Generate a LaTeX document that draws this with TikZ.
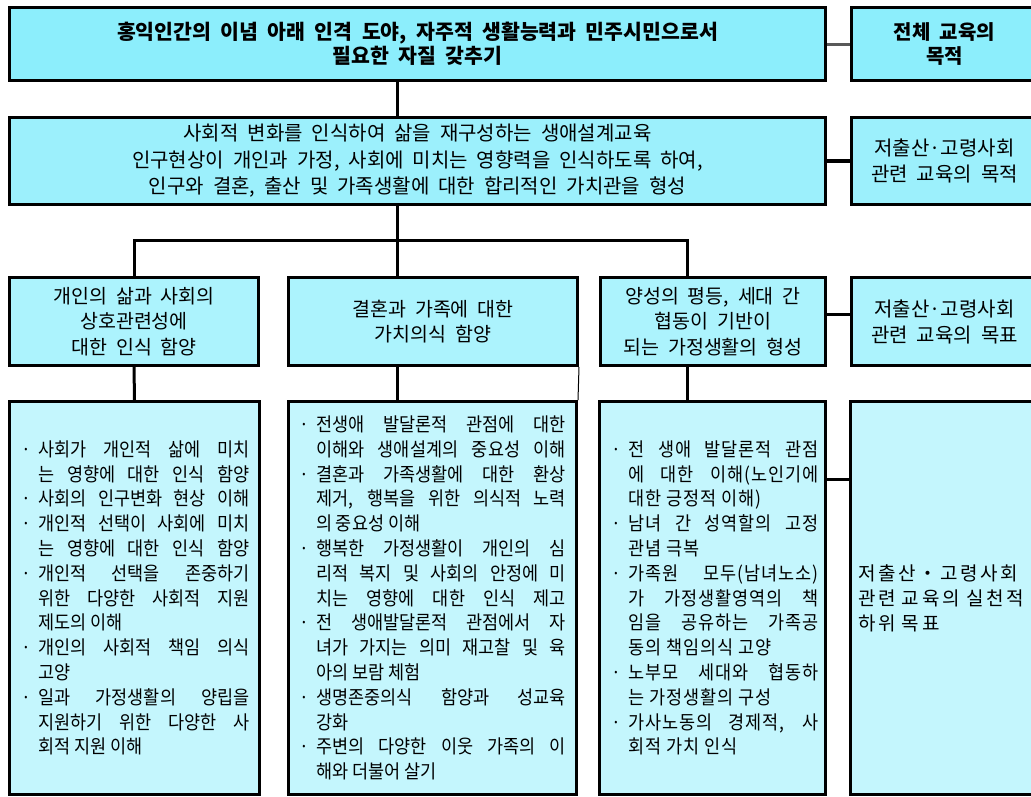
\documentclass[tikz,border=0pt]{standalone}
\usepackage{fontspec}
\setmainfont{Noto Sans CJK KR}[WordSpace=2]
\newfontfamily\klist[FakeStretch=0.92]{Noto Sans CJK KR}
\newfontfamily\kthree[FakeStretch=0.92,LetterSpace=5]{Noto Sans CJK KR}
\newfontfamily\kfour[LetterSpace=14]{Noto Sans CJK KR}
\definecolor{cA}{RGB}{140,238,252}
\definecolor{cB}{RGB}{156,240,252}
\definecolor{cC}{RGB}{172,243,253}
\definecolor{cD}{RGB}{196,246,253}
\newlength\tw \newlength\bi \newlength\lead
\newcommand\Bj[1]{\hspace*{\lead}\makebox[\bi][l]{\makebox[0pt]{·}}\makebox[\tw][s]{#1}}
\newcommand\Cj[1]{\hspace*{\lead}\hspace*{\bi}\makebox[\tw][s]{#1}}
\newcommand\Cl[1]{\hspace*{\lead}\hspace*{\bi}#1}
\tikzset{
  mybox/.style={draw=black, line width=3pt, rectangle, inner sep=0pt, anchor=north west, align=center},
  conn/.style={draw=black, line width=3pt},
  lst/.style={font=\klist\fontsize{19}{24.8}\selectfont, align=left},
}
\begin{document}
\begin{tikzpicture}[x=1pt,y=-1pt]
\useasboundingbox (0,0) rectangle (1031,796);
\clip (0,0) rectangle (1031,796);
% row 1
\node[mybox, fill=cA, minimum width=816pt, minimum height=73pt, font=\fontsize{20.5}{24}\selectfont\bfseries] (n1) at (8,6)
  {홍익인간의 이념 아래 인격 도야, 자주적 생활능력과 민주시민으로서\\필요한 자질 갖추기};
\node[mybox, fill=cA, minimum width=186pt, minimum height=73pt, font=\fontsize{20}{24}\selectfont\bfseries] (r1) at (850,6)
  {전체 교육의\\목적};
% row 2
\node[mybox, fill=cB, minimum width=816pt, minimum height=87pt, font=\fontsize{20}{26.5}\selectfont] (n2) at (8,116)
  {사회적 변화를 인식하여 삶을 재구성하는 생애설계교육\\인구현상이 개인과 가정, 사회에 미치는 영향력을 인식하도록 하여,\\인구와 결혼, 출산 및 가족생활에 대한 합리적인 가치관을 형성};
\node[mybox, fill=cB, minimum width=186pt, minimum height=87pt, font=\fontsize{20}{26}\selectfont] (r2) at (850,116)
  {저출산·고령사회\\관련 교육의 목적};
% row 3
\node[mybox, fill=cC, minimum width=249pt, minimum height=88pt, font=\fontsize{19.5}{25.5}\selectfont] (a3) at (8,276)
  {개인의 삶과 사회의\\상호관련성에\\대한 인식 함양};
\node[mybox, fill=cC, minimum width=289pt, minimum height=88pt, font=\fontsize{19.5}{25.5}\selectfont] (b3) at (287,276)
  {결혼과 가족에 대한\\가치의식 함양};
\node[mybox, fill=cC, minimum width=225pt, minimum height=88pt, font=\fontsize{19.5}{25.5}\selectfont] (c3) at (599,276)
  {양성의 평등, 세대 간\\협동이 기반이\\되는 가정생활의 형성};
\node[mybox, fill=cC, minimum width=186pt, minimum height=88pt, font=\fontsize{20}{26}\selectfont] (r3) at (850,276)
  {저출산·고령사회\\관련 교육의 목표};
% row 4
\setlength\tw{211pt}\setlength\bi{12pt}\setlength\lead{7pt}
\node[mybox, lst, fill=cD, minimum width=250pt, minimum height=393pt] (a4) at (8,400)
  {\Bj{사회가 개인적 삶에 미치}\\
   \Cj{는 영향에 대한 인식 함양}\\
   \Bj{사회의 인구변화 현상 이해}\\
   \Bj{개인적 선택이 사회에 미치}\\
   \Cj{는 영향에 대한 인식 함양}\\
   \Bj{개인적 선택을 존중하기}\\
   \Cj{위한 다양한 사회적 지원}\\
   \Cl{제도의 이해}\\
   \Bj{개인의 사회적 책임 의식}\\
   \Cl{고양}\\
   \Bj{일과 가정생활의 양립을}\\
   \Cj{지원하기 위한 다양한 사}\\
   \Cl{회적 지원 이해}};
\setlength\tw{250pt}\setlength\bi{12pt}\setlength\lead{5pt}
\node[mybox, lst, fill=cD, minimum width=288pt, minimum height=393pt] (b4) at (287,400)
  {\Bj{전생애 발달론적 관점에 대한}\\
   \Cj{이해와 생애설계의 중요성 이해}\\
   \Bj{결혼과 가족생활에 대한 환상}\\
   \Cj{제거, 행복을 위한 의식적 노력}\\
   \Cl{의 중요성 이해}\\
   \Bj{행복한 가정생활이 개인의 심}\\
   \Cj{리적 복지 및 사회의 안정에 미}\\
   \Cj{치는 영향에 대한 인식 제고}\\
   \Bj{전 생애발달론적 관점에서 자}\\
   \Cj{녀가 가지는 의미 재고찰 및 육}\\
   \Cl{아의 보람 체험}\\
   \Bj{생명존중의식 함양과 성교육}\\
   \Cl{강화}\\
   \Bj{주변의 다양한 이웃 가족의 이}\\
   \Cl{해와 더불어 살기}};
\setlength\tw{190pt}\setlength\bi{12pt}\setlength\lead{10pt}
\node[mybox, lst, fill=cD, minimum width=226pt, minimum height=393pt, font=\kthree\fontsize{19}{24.8}\selectfont] (c4) at (598,400)
  {\Bj{전 생애 발달론적 관점}\\
   \Cj{에 대한 이해(노인기에}\\
   \Cl{대한 긍정적 이해)}\\
   \Bj{남녀 간 성역할의 고정}\\
   \Cl{관념 극복}\\
   \Bj{가족원 모두(남녀노소)}\\
   \Cj{가 가정생활영역의 책}\\
   \Cj{임을 공유하는 가족공}\\
   \Cl{동의 책임의식 고양}\\
   \Bj{노부모 세대와 협동하}\\
   \Cl{는 가정생활의 구성}\\
   \Bj{가사노동의 경제적, 사}\\
   \Cl{회적 가치 인식}};
\node[mybox, fill=cD, minimum width=187pt, minimum height=393pt, text width=172pt, align=left, font=\kfour\fontsize{19}{25}\selectfont] (r4) at (849,400)
  {저출산・고령사회\\관련 교육의 실천적\\하위 목표};
% connectors
\coordinate (j) at (397,240);
\coordinate (k) at (687,240);
\draw[conn] (j |- n1.south) -- (j |- n2.north);
\draw[conn] (j |- n2.south) -- (j |- b3.north);
\draw[conn] (a3.north) |- (k) -- (k |- c3.north);
\draw[conn] (a3.south) -- (a4.north);
\draw[conn] (j |- b3.south) -- (j |- b4.north);
\draw[conn] (k |- c3.south) -- (k |- c4.north);
\draw[line width=1pt] (b3.south east) -- (b4.north east);
\draw[line width=3pt, draw=black!65] (n1.east) -- (r1.west);
\draw[line width=4.5pt] (n2.east) -- (r2.west);
\draw[conn] ([yshift=7pt]c3.east) -- ([yshift=7pt]c3.east -| r3.west);
\draw[conn] ([yshift=-79pt]c4.north east) -- ([yshift=-79pt]c4.north east -| r4.west);
\end{tikzpicture}
\end{document}
